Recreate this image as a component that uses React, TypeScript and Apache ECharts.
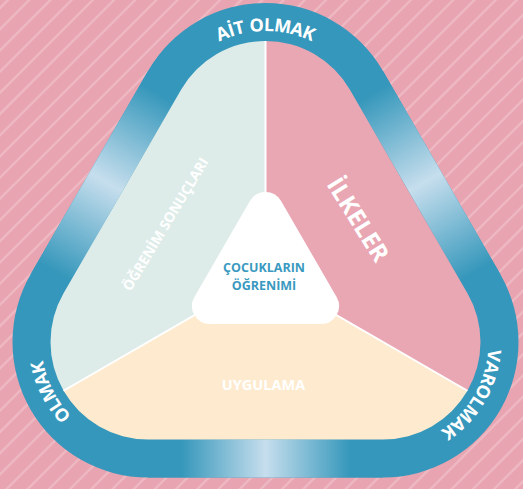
import React, { useEffect, useRef } from 'react';
import * as echarts from 'echarts';

// ---- content ----
const sectionLabels = ['ÖĞRENİM SONUÇLARI', 'İLKELER', 'UYGULAMA'];
const sectionColors = ['#deece9', '#e9a6b3', '#feebcf'];
const centerLines = ['ÇOCUKLARIN', 'ÖĞRENİMİ'];
const ringLabels = ['AİT OLMAK', 'VAROLMAK', 'OLMAK'];
const ringLabelAngles = [-90, 30.5, 153];

// ---- geometry (layout constants) ----
const W = 523;
const H = 489;
const CX = 265.5;
const TOP_Y = 138.5;
const BOT_Y = 342;
const HALF = 117.5;
const R_OUT = 135.5;
const R_IN = 97.5;
const R_MID = (R_OUT + R_IN) / 2;
const VA = [CX, TOP_Y];
const VB = [CX - HALF, BOT_Y];
const VC = [CX + HALF, BOT_Y];
const G = [CX, (TOP_Y + 2 * BOT_Y) / 3];

const DEG = Math.PI / 180;
function pt(v: number[], r: number, a: number): number[] {
  return [v[0] + r * Math.cos(a * DEG), v[1] + r * Math.sin(a * DEG)];
}
const f = (p: number[]) => `${p[0].toFixed(2)} ${p[1].toFixed(2)}`;
const arc = (r: number, p: number[]) => `A ${r} ${r} 0 0 1 ${f(p)}`;

function roundedTri(A: number[], B: number[], C: number[], r: number) {
  return `M ${f(pt(A, r, -150))} ${arc(r, pt(A, r, -30))} L ${f(pt(C, r, -30))} ${arc(
    r,
    pt(C, r, 90)
  )} L ${f(pt(B, r, 90))} ${arc(r, pt(B, r, 210))} Z`;
}

const r = R_IN;
const sectorPaths = [
  // left
  `M ${f(G)} L ${f(pt(VB, r, 150))} ${arc(r, pt(VB, r, 210))} L ${f(pt(VA, r, -150))} ${arc(r, pt(VA, r, -90))} Z`,
  // right
  `M ${f(G)} L ${f(pt(VA, r, -90))} ${arc(r, pt(VA, r, -30))} L ${f(pt(VC, r, -30))} ${arc(r, pt(VC, r, 30))} Z`,
  // bottom
  `M ${f(G)} L ${f(pt(VC, r, 30))} ${arc(r, pt(VC, r, 90))} L ${f(pt(VB, r, 90))} ${arc(r, pt(VB, r, 150))} Z`,
];

// center white triangle
const WT_TOP = 210;
const WT_BOT = 306;
const WT_HALF = 55.5;
const WT_R = 18;

let registered = false;
function registerShapes() {
  if (registered) return;
  registered = true;
  echarts.graphic.registerShape('outerBand', echarts.graphic.extendPath(roundedTri(VA, VB, VC, R_OUT), {}) as any);
  sectorPaths.forEach((d, i) => {
    echarts.graphic.registerShape('sector' + i, echarts.graphic.extendPath(d, {}) as any);
  });
  echarts.graphic.registerShape(
    'centerTri',
    echarts.graphic.extendPath(
      roundedTri([CX, WT_TOP], [CX - WT_HALF, WT_BOT], [CX + WT_HALF, WT_BOT], WT_R),
      {}
    ) as any
  );
  let d = '';
  for (let c = 18 - 21.2 * 2; c < W + H + 40; c += 21.2) {
    d += `M ${c.toFixed(2)} -10 L ${(c - 520).toFixed(2)} 510 `;
  }
  echarts.graphic.registerShape('stripes', echarts.graphic.extendPath(d, {}) as any);
}

const BLUE = '#3597bb';
const LIGHT = '#c6deed';

function bandGradient(p1: number[], p2: number[], edge: number) {
  return new echarts.graphic.LinearGradient(
    p1[0],
    p1[1],
    p2[0],
    p2[1],
    [
      { offset: 0, color: BLUE },
      { offset: edge, color: BLUE },
      { offset: 0.5, color: LIGHT },
      { offset: 1 - edge, color: BLUE },
      { offset: 1, color: BLUE },
    ],
    true
  );
}

export default function App() {
  const ref = useRef<HTMLDivElement>(null);
  useEffect(() => {
    if (!ref.current) return;
    registerShapes();
    const chart = echarts.init(ref.current, undefined, { renderer: 'svg' });
    const canvas = document.createElement('canvas');
    const ctx = canvas.getContext('2d')!;
    const FONT = '"Open Sans", "DejaVu Sans", sans-serif';

    function curvedText(label: string, center: number[], radius: number, midDeg: number, size: number, spacing: number) {
      ctx.font = `bold ${size}px "Open Sans"`;
      const chars = Array.from(label);
      const widths = chars.map((c) => ctx.measureText(c).width);
      const total = widths.reduce((a, b) => a + b, 0) + spacing * (chars.length - 1);
      const start = midDeg * DEG - total / radius / 2;
      let cum = 0;
      return chars.map((c, i) => {
        const th = start + (cum + widths[i] / 2) / radius;
        cum += widths[i] + spacing;
        return {
          type: 'text',
          x: center[0] + radius * Math.cos(th),
          y: center[1] + radius * Math.sin(th),
          rotation: -(th + Math.PI / 2),
          z: 20,
          style: {
            text: c,
            fill: '#ffffff',
            fontSize: size,
            fontWeight: 'bold',
            fontFamily: FONT,
            align: 'center',
            verticalAlign: 'middle',
          },
        };
      });
    }

    const edges = [
      // left edge
      [pt(VA, R_OUT, -150), pt(VB, R_OUT, 210), pt(VB, R_IN, 210), pt(VA, R_IN, -150), pt(VA, R_MID, -150), pt(VB, R_MID, 210)],
      // right edge
      [pt(VA, R_OUT, -30), pt(VC, R_OUT, -30), pt(VC, R_IN, -30), pt(VA, R_IN, -30), pt(VA, R_MID, -30), pt(VC, R_MID, -30)],
      // bottom edge
      [pt(VC, R_OUT, 90), pt(VB, R_OUT, 90), pt(VB, R_IN, 90), pt(VC, R_IN, 90), pt(VC, R_MID, 90), pt(VB, R_MID, 90)],
    ];
    const edgeStops = [0.06, 0.06, 0.14];

    const elements: any[] = [];
    elements.push({
      type: 'stripes',
      z: 1,
      style: { fill: 'none', stroke: '#eeb8c2', lineWidth: 2.4 },
    });
    elements.push({ type: 'outerBand', z: 2, style: { fill: BLUE } });
    edges.forEach((e, i) => {
      elements.push({
        type: 'polygon',
        z: 3,
        shape: { points: [e[0], e[1], e[2], e[3]] },
        style: { fill: bandGradient(e[4], e[5], edgeStops[i]) },
      });
    });
    sectorPaths.forEach((_, i) => {
      elements.push({ type: 'sector' + i, z: 4, style: { fill: sectionColors[i] } });
    });
    [pt(VA, R_IN, -90), pt(VB, R_IN, 150), pt(VC, R_IN, 30)].forEach((p) => {
      elements.push({
        type: 'line',
        z: 5,
        shape: { x1: G[0], y1: G[1], x2: p[0], y2: p[1] },
        style: { stroke: '#ffffff', lineWidth: 2 },
      });
    });
    elements.push({ type: 'centerTri', z: 6, style: { fill: '#ffffff' } });

    // section labels
    elements.push({
      type: 'text',
      x: 165,
      y: 224,
      rotation: 59 * DEG,
      z: 10,
      style: {
        text: sectionLabels[0],
        fill: '#ffffff',
        fontSize: 14,
        fontWeight: 'bold',
        fontFamily: FONT,
        align: 'center',
        verticalAlign: 'middle',
      },
    });
    elements.push({
      type: 'text',
      x: 359,
      y: 219,
      rotation: -58 * DEG,
      z: 10,
      style: {
        text: sectionLabels[1],
        fill: '#ffffff',
        fontSize: 24,
        fontWeight: 'bold',
        fontFamily: FONT,
        align: 'center',
        verticalAlign: 'middle',
      },
    });
    elements.push({
      type: 'text',
      x: 263.5,
      y: 384,
      z: 10,
      style: {
        text: sectionLabels[2],
        fill: '#ffffff',
        fontSize: 14.5,
        fontWeight: 'bold',
        fontFamily: FONT,
        align: 'center',
        verticalAlign: 'middle',
      },
    });
    centerLines.forEach((t, i) => {
      elements.push({
        type: 'text',
        x: 264,
        y: 267 + i * 18.5,
        z: 10,
        style: {
          text: t,
          fill: '#3a99c0',
          fontSize: 12.5,
          fontWeight: 'bold',
          fontFamily: FONT,
          align: 'center',
          verticalAlign: 'middle',
        },
      });
    });

    // ring labels
    const centers = [VA, VC, VB];
    const radii = [114.5, 112.5, 113.5];
    ringLabels.forEach((t, i) => {
      elements.push(...curvedText(t, centers[i], radii[i], ringLabelAngles[i], 18, 0.3));
    });

    chart.setOption({
      animation: false,
      backgroundColor: '#e8a4b1',
      graphic: { elements },
    });
    return () => chart.dispose();
  }, []);
  return <div ref={ref} style={{ position: 'fixed', left: 0, top: 0, width: W, height: H }} />;
}
